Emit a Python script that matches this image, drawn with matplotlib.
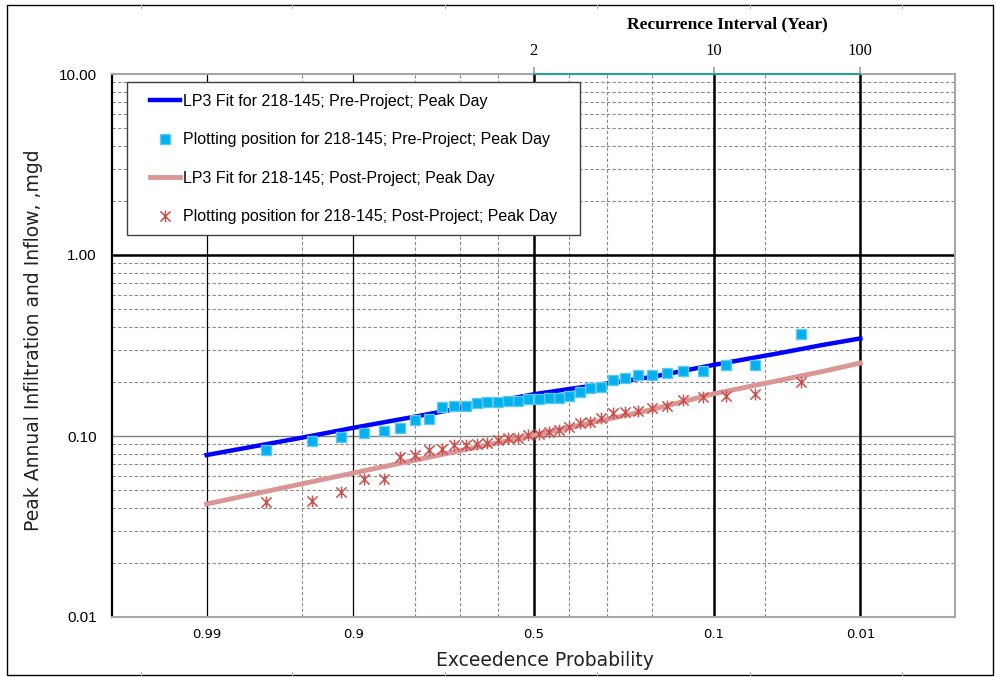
import matplotlib.pyplot as plt
import numpy as np
from statistics import NormalDist
from matplotlib.path import Path
from matplotlib.patches import Rectangle
from matplotlib.lines import Line2D
from matplotlib.ticker import NullLocator

# annual peak day I/I (mgd), ranked largest first
pre_obs = [0.366, 0.247, 0.247, 0.229, 0.229, 0.223, 0.217, 0.217, 0.209, 0.204,
           0.187, 0.184, 0.175, 0.166, 0.162, 0.162, 0.160, 0.160, 0.156, 0.156,
           0.154, 0.154, 0.152, 0.147, 0.147, 0.145, 0.124, 0.123, 0.111, 0.107,
           0.104, 0.099, 0.094, 0.084]
post_obs = [0.199, 0.171, 0.166, 0.164, 0.158, 0.147, 0.143, 0.137, 0.136, 0.134,
            0.126, 0.120, 0.118, 0.112, 0.108, 0.105, 0.103, 0.101, 0.0975, 0.0975,
            0.095, 0.0915, 0.090, 0.089, 0.089, 0.085, 0.084, 0.0785, 0.0765, 0.058,
            0.058, 0.049, 0.0437, 0.0432]

# LP3 fitted quantiles
fit_prob = [0.99, 0.95, 0.9, 0.8, 0.5, 0.2, 0.1, 0.04, 0.02, 0.01]
pre_fit = [0.0785, 0.098, 0.111, 0.128, 0.170, 0.212, 0.247, 0.287, 0.318, 0.346]
post_fit = [0.0421, 0.0545, 0.0625, 0.0736, 0.101, 0.140, 0.171, 0.203, 0.227, 0.253]

prob_ticks = [0.99, 0.9, 0.5, 0.1, 0.01]
prob_labels = ['0.99', '0.9', '0.5', '0.1', '0.01']
prob_minor = [0.95, 0.8, 0.7, 0.6, 0.4, 0.3, 0.2, 0.05]
return_periods = [2, 10, 100]
y_ticks = [0.01, 0.1, 1, 10]
y_labels = ['0.01', '0.10', '1.00', '10.00']

nd = NormalDist()


def zpos(p):
    # exceedance probability -> normal probability paper position
    return np.array([nd.inv_cdf(1 - q) for q in np.atleast_1d(p)])


# Weibull plotting positions m/(n+1)
n = len(pre_obs)
plot_pos = np.arange(1, n + 1) / (n + 1)

fig = plt.figure(figsize=(9.97, 6.77), dpi=100)
ax = fig.add_axes([112 / 997, 60 / 677, 843 / 997, 543 / 677])
ax.set_yscale('log')
ax.set_xlim(-3, 3)
ax.set_ylim(0.01, 10)

# grid
dash = (0, (3, 2))
for dec in [0.01, 0.1, 1]:
    for k in range(2, 10):
        ax.axhline(dec * k, color='#8a8a8a', lw=0.8, ls=dash, zorder=1)
for z in zpos(prob_minor):
    ax.axvline(z, color='#8a8a8a', lw=0.8, ls=dash, zorder=1)
ax.axhline(0.1, color='#808080', lw=1.0, zorder=1.5)
ax.axhline(1.0, color='black', lw=1.8, zorder=1.5)
for p, z in zip(prob_ticks, zpos(prob_ticks)):
    ax.axvline(z, color='black', lw=0.9 if p > 0.5 else 1.8, zorder=1.5)

star = Path([(-1, -1), (1, 1), (-1, 1), (1, -1), (0, -1.15), (0, 1.15)],
            [Path.MOVETO, Path.LINETO, Path.MOVETO, Path.LINETO, Path.MOVETO, Path.LINETO])

ax.plot(zpos(fit_prob), pre_fit, color='#0000ff', lw=3.2, zorder=3,
        label='LP3 Fit for 218-145; Pre-Project; Peak Day')
ax.plot(zpos(plot_pos), pre_obs, ls='none', marker='s', ms=7.5, mfc='#00b0f0',
        mec='#5ec8ee', mew=1, zorder=4,
        label='Plotting position for 218-145; Pre-Project; Peak Day')
ax.plot(zpos(fit_prob), post_fit, color='#d99694', lw=3.5, zorder=3,
        label='LP3 Fit for 218-145; Post-Project; Peak Day')
ax.plot(zpos(plot_pos), post_obs, ls='none', marker=star, ms=8.5, mfc='none',
        mec='#c9504d', mew=1.1, zorder=4,
        label='Plotting position for 218-145; Post-Project; Peak Day')

# axes
ax.set_xticks(zpos(prob_ticks))
ax.set_xticklabels(prob_labels, family='DejaVu Sans', fontsize=9.5)
ax.set_yticks(y_ticks)
ax.set_yticklabels(y_labels, family='Liberation Sans', fontsize=11)
ax.yaxis.set_minor_locator(NullLocator())
ax.tick_params(axis='x', length=0, pad=8)
ax.tick_params(axis='y', length=0, pad=11)
ax.spines['left'].set_color('black')
ax.spines['left'].set_linewidth(1.6)
for s in ['bottom', 'right', 'top']:
    ax.spines[s].set_color('#a6a6a6')
    ax.spines[s].set_linewidth(1.5)
ax.set_xlabel('Exceedence Probability', family='DejaVu Sans', fontsize=13.5, color='#222222')
ax.xaxis.set_label_coords(0.514, -0.062)
ax.set_ylabel('Peak Annual Infiltration and Inflow, ,mgd', family='DejaVu Sans',
              fontsize=13.5, color='#222222')
ax.yaxis.set_label_coords(-0.082, 0.51)

# recurrence interval axis on top
ax2 = ax.twiny()
ax2.set_xlim(ax.get_xlim())
rp_pos = zpos(1 / np.array(return_periods))
ax2.set_xticks(rp_pos)
ax2.set_xticklabels([str(r) for r in return_periods], family='Liberation Serif', fontsize=12)
ax2.tick_params(axis='x', direction='out', length=5, width=1.3, color='#a6a6a6', pad=6)
for s in ['left', 'right', 'bottom']:
    ax2.spines[s].set_visible(False)
ax2.spines['top'].set_bounds(rp_pos[0], rp_pos[-1])
ax2.spines['top'].set_color('#2a9d96')
ax2.spines['top'].set_linewidth(1.5)
ax2.set_xlabel('Recurrence Interval (Year)', family='Liberation Serif', fontweight='bold',
               fontsize=12.5)
ax2.xaxis.set_label_coords(0.7295, 1.084)

# legend box drawn separately so its padding can differ per side
box = Rectangle((0.0178, 0.7035), 0.5374, 0.2818, transform=ax.transAxes,
                facecolor='white', edgecolor='#404040', lw=1.0, zorder=9)
ax.add_patch(box)
leg = ax.legend(loc='upper left', bbox_to_anchor=(0.0451, 0.9637), borderaxespad=0,
                borderpad=0, prop={'family': 'Liberation Sans', 'size': 11.5},
                frameon=False, handlelength=1.88, handletextpad=0.19,
                labelspacing=1.47)
leg.set_zorder(10)

# chart border
fig.patches.append(Rectangle((7 / 997, 2 / 677), 986 / 997, 670 / 677, fill=False,
                             edgecolor='black', lw=1, transform=fig.transFigure))
for x in [141, 292, 445, 597, 750, 902]:
    for y0, y1 in [(5, 8), (672, 675)]:
        fig.lines.append(Line2D([x / 997, x / 997], [1 - y0 / 677, 1 - y1 / 677],
                                color='#b0b0b0', lw=0.8, transform=fig.transFigure))

fig.savefig('out.png', dpi=100)
